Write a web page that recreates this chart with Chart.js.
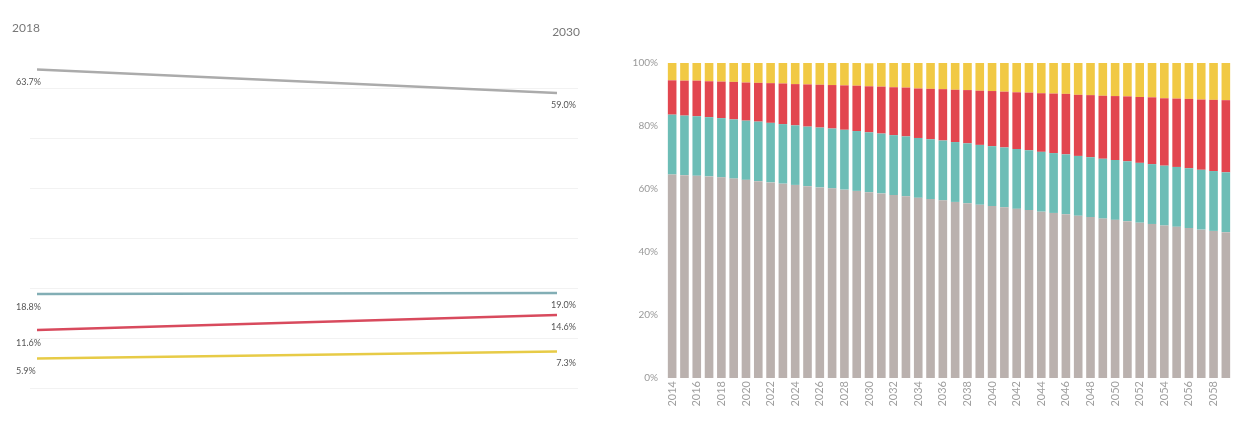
<!DOCTYPE html>
<html>
<head>
<meta charset="utf-8">
<script src="https://cdn.jsdelivr.net/npm/chart.js@4/dist/chart.umd.min.js"></script>
<style>
  html, body { margin: 0; padding: 0; background: #ffffff; }
  body { width: 1247px; height: 423px; position: relative; overflow: hidden; }
  #slope { position: absolute; left: 0; top: 0; width: 600px; height: 423px; }
  #stack { position: absolute; left: 600px; top: 0; width: 647px; height: 423px; }
</style>
</head>
<body>
<canvas id="slope" width="600" height="423"></canvas>
<canvas id="stack" width="647" height="423"></canvas>
<script>
// ---- Slope chart: share in 2018 vs 2030 ----
const slopeYears = [2018, 2030];
const slopeGray   = [63.7, 59.0];
const slopeTeal   = [18.8, 19.0];
const slopeRed    = [11.6, 14.6];
const slopeYellow = [5.9, 7.3];

// ---- 100% stacked bars by year ----
const years = [
  '2014','2015','2016','2017','2018','2019','2020','2021','2022','2023',
  '2024','2025','2026','2027','2028','2029','2030','2031','2032','2033',
  '2034','2035','2036','2037','2038','2039','2040','2041','2042','2043',
  '2044','2045','2046','2047','2048','2049','2050','2051','2052','2053',
  '2054','2055','2056','2057','2058','2059'
];
const shareGray = [
  64.6, 64.4, 64.2, 64.0, 63.7, 63.3, 62.9, 62.5, 62.1, 61.7,
  61.3, 60.9, 60.5, 60.2, 59.8, 59.4, 59.0, 58.6, 58.1, 57.7,
  57.2, 56.8, 56.4, 55.9, 55.5, 55.0, 54.6, 54.2, 53.7, 53.3,
  52.8, 52.4, 52.0, 51.5, 51.1, 50.6, 50.2, 49.8, 49.3, 48.9,
  48.4, 48.0, 47.6, 47.1, 46.7, 46.3
];
const shareTeal = [
  19.0, 18.9, 18.9, 18.8, 18.8, 18.8, 18.8, 18.9, 18.9, 18.9,
  18.9, 18.9, 19.0, 19.0, 19.0, 19.0, 19.0, 19.0, 19.0, 19.0,
  19.0, 19.0, 19.0, 19.0, 19.0, 19.0, 19.0, 19.0, 19.0, 19.0,
  19.0, 19.0, 19.0, 19.0, 19.0, 19.0, 19.0, 19.0, 19.0, 19.0,
  19.0, 19.0, 19.0, 19.0, 19.0, 19.0
];
const shareRed = [
  10.9, 11.1, 11.3, 11.4, 11.6, 11.9, 12.1, 12.3, 12.6, 12.9,
  13.1, 13.4, 13.6, 13.8, 14.1, 14.4, 14.6, 14.9, 15.2, 15.5,
  15.7, 16.0, 16.3, 16.6, 16.9, 17.2, 17.5, 17.7, 18.0, 18.3,
  18.6, 18.9, 19.2, 19.4, 19.7, 20.0, 20.3, 20.6, 20.9, 21.2,
  21.4, 21.7, 22.0, 22.3, 22.6, 22.9
];
const shareYellow = [
  5.5, 5.6, 5.6, 5.8, 5.9, 6.0, 6.2, 6.3, 6.4, 6.5,
  6.7, 6.8, 6.9, 7.0, 7.1, 7.2, 7.3, 7.5, 7.7, 7.8,
  8.1, 8.2, 8.3, 8.5, 8.6, 8.8, 8.9, 9.1, 9.3, 9.4,
  9.6, 9.7, 9.8, 10.1, 10.2, 10.4, 10.5, 10.6, 10.8, 10.9,
  11.2, 11.3, 11.4, 11.6, 11.7, 11.8
];
const yTickValues = [0, 20, 40, 60, 80, 100];

const FONT = 'Lato, "Open Sans", sans-serif';

// faint horizontal guides behind the slope lines
const slopeGuides = {
  id: 'slopeGuides',
  beforeDatasetsDraw(chart) {
    const ctx = chart.ctx, y = chart.scales.y;
    ctx.save();
    ctx.strokeStyle = '#f2f2f2';
    ctx.lineWidth = 1;
    for (let v = 0; v <= 60; v += 10) {
      const py = Math.round(y.getPixelForValue(v)) + 0.5;
      ctx.beginPath();
      ctx.moveTo(30, py);
      ctx.lineTo(578, py);
      ctx.stroke();
    }
    ctx.restore();
  }
};

// year headers and end-point value labels
const slopeLabels = {
  id: 'slopeLabels',
  afterDatasetsDraw(chart) {
    const ctx = chart.ctx;
    ctx.save();
    ctx.fillStyle = '#777';
    ctx.font = '12px ' + FONT;
    ctx.textBaseline = 'middle';
    ctx.textAlign = 'left';
    ctx.fillText(String(slopeYears[0]), 12, 28);
    ctx.textAlign = 'right';
    ctx.fillText(String(slopeYears[1]), 580, 32);

    ctx.font = '9px ' + FONT;
    ctx.fillStyle = '#555';
    chart.data.datasets.forEach((ds, i) => {
      const meta = chart.getDatasetMeta(i);
      const p0 = meta.data[0], p1 = meta.data[1];
      ctx.textAlign = 'left';
      ctx.fillText(ds.data[0].y.toFixed(1) + '%', p0.x - 21, p0.y + 13);
      ctx.textAlign = 'right';
      ctx.fillText(ds.data[1].y.toFixed(1) + '%', p1.x + 19, p1.y + 12);
    });
    ctx.restore();
  }
};

function pts(vals) {
  return vals.map((v, i) => ({ x: slopeYears[i], y: v }));
}

new Chart(document.getElementById('slope'), {
  type: 'line',
  data: {
    datasets: [
      { data: pts(slopeGray),   borderColor: '#ababab', borderWidth: 2.5 },
      { data: pts(slopeTeal),   borderColor: '#82aeb5', borderWidth: 2.5 },
      { data: pts(slopeRed),    borderColor: '#d84a5d', borderWidth: 2.5 },
      { data: pts(slopeYellow), borderColor: '#e7cb46', borderWidth: 2.5 }
    ]
  },
  options: {
    responsive: false,
    animation: false,
    layout: { padding: { left: 37, right: 43, top: 38, bottom: 35 } },
    elements: { point: { radius: 0 }, line: { tension: 0 } },
    plugins: { legend: { display: false }, tooltip: { enabled: false } },
    scales: {
      x: { type: 'linear', min: slopeYears[0], max: slopeYears[1], display: false },
      y: { type: 'linear', min: 0, max: 70, display: false }
    }
  },
  plugins: [slopeGuides, slopeLabels]
});

new Chart(document.getElementById('stack'), {
  type: 'bar',
  data: {
    labels: years,
    datasets: [
      { data: shareGray,   backgroundColor: '#bab1ae' },
      { data: shareTeal,   backgroundColor: '#6dbdb6' },
      { data: shareRed,    backgroundColor: '#e2464f' },
      { data: shareYellow, backgroundColor: '#f1c944' }
    ]
  },
  options: {
    responsive: false,
    animation: false,
    layout: { padding: { left: 0, right: 15, top: 63, bottom: 0 } },
    datasets: { bar: { barPercentage: 0.7, categoryPercentage: 1.0 } },
    plugins: { legend: { display: false }, tooltip: { enabled: false } },
    scales: {
      x: {
        stacked: true,
        grid: { display: false, drawTicks: false },
        border: { display: false },
        afterFit(s) { s.height = 45; },
        ticks: {
          autoSkip: false,
          minRotation: 90,
          maxRotation: 90,
          padding: 3,
          color: '#a0a0a0',
          font: { family: FONT, size: 11 },
          callback(v, i) { return i % 2 === 0 ? years[i] : ''; }
        }
      },
      y: {
        stacked: true,
        min: 0,
        max: 100,
        grid: { display: false, drawTicks: false },
        border: { display: false },
        afterFit(s) { s.width = 66; },
        afterBuildTicks(s) { s.ticks = yTickValues.map(v => ({ value: v })); },
        ticks: {
          padding: 8,
          color: '#999',
          font: { family: FONT, size: 10 },
          callback(v) { return v + '%'; }
        }
      }
    }
  }
});
</script>
</body>
</html>
